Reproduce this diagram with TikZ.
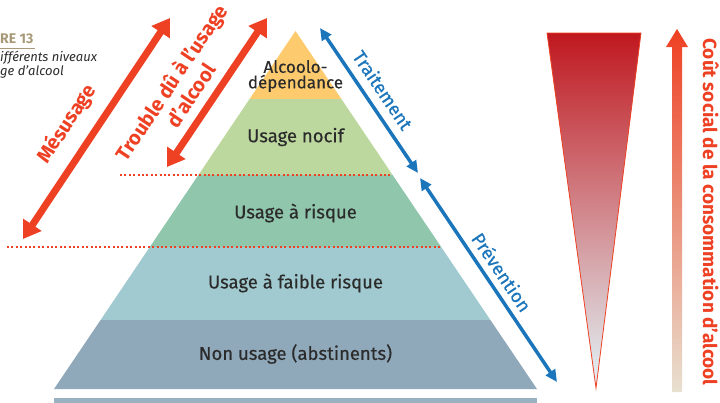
\documentclass[tikz,border=0pt]{standalone}
\usepackage{fontspec}
\setmainfont{Fira Sans}
\newfontfamily\medfont{Fira Sans}[FakeBold=0.4]
\usetikzlibrary{arrows.meta}

\definecolor{txtgray}{HTML}{2B2B2B}
\definecolor{alcred}{HTML}{EE4023}
\definecolor{alcblue}{HTML}{1A75BB}
\definecolor{tan}{HTML}{A89A78}
\definecolor{lvlA}{HTML}{FDCB6E}
\definecolor{lvlB}{HTML}{BDD89E}
\definecolor{lvlC}{HTML}{90C6AC}
\definecolor{lvlD}{HTML}{A0CAD0}
\definecolor{lvlE}{HTML}{8FA9BB}
\definecolor{coutTop}{HTML}{C0181F}
\definecolor{coutMid}{HTML}{BCAEA8}
\definecolor{coutBot}{HTML}{E2F5F9}
\definecolor{coutBeige}{HTML}{E8E0D0}

\begin{document}
\begin{tikzpicture}[x=1pt,y=-1pt,
    lvl/.style={font=\medfont\fontsize{18.5}{16}\selectfont, text=txtgray, align=center},
    redlbl/.style={font=\bfseries\fontsize{20}{23.5}\selectfont, text=alcred, align=center},
    bluelbl/.style={font=\medfont\fontsize{18.5}{20}\selectfont, text=alcblue},
    redarrow/.style={draw=alcred, line width=7pt,
        {Triangle[length=17pt,width=21pt]}-{Triangle[length=17pt,width=21pt]}},
    bluearrow/.style={draw=alcblue, line width=3.5pt,
        {Triangle[length=12pt,width=11pt]}-{Triangle[length=12pt,width=11pt]}},
    limit/.style={draw=alcred, line width=2pt, dash pattern=on 2pt off 2.4pt}]
    \useasboundingbox (0,0) rectangle (720,402);

    % pyramide
    \fill[lvlA] (295.5,31) -- (341.4,99) -- (249.6,99) -- cycle;
    \fill[lvlB] (249.6,99) -- (341.4,99) -- (392.6,175) -- (198.4,175) -- cycle;
    \fill[lvlC] (198.4,175) -- (392.6,175) -- (441.2,247) -- (149.8,247) -- cycle;
    \fill[lvlD] (149.8,247) -- (441.2,247) -- (490.4,320) -- (100.6,320) -- cycle;
    \fill[lvlE] (100.6,320) -- (490.4,320) -- (537,389) -- (54,389) -- cycle;
    \fill[lvlE!90!white] (54,398) rectangle (537,403);

    \node[lvl, font=\medfont\fontsize{17}{15.5}\selectfont] (dep) at (295.5,76) {Alcoolo-\\dépendance};
    \node[lvl] (nocif) at (295.5,137) {Usage nocif};
    \node[lvl] (risque) at (295.5,213) {Usage à risque};
    \node[lvl] (faible) at (295.5,283) {Usage à faible risque};
    \node[lvl] (non) at (295.5,354) {Non usage (abstinents)};

    % seuils
    \draw[limit] (120,175) -- (392.6,175);
    \draw[limit] (7,247) -- (441.2,247);

    % fleches de gauche
    \coordinate (mesA) at (23,239);
    \coordinate (mesB) at (170,18);
    \coordinate (troA) at (167,167);
    \coordinate (troB) at (267,18);
    \draw[redarrow] (mesA) -- (mesB);
    \draw[redarrow] (troA) -- (troB);
    \node[redlbl, rotate=56.4] (mes) at (67,124) {Mésusage};
    \node[redlbl, rotate=56.1] (tro) at (180.5,88.5) {Trouble dû à l’usage\\d’alcool};

    % fleches de droite
    \coordinate (traA) at (320,28);
    \coordinate (traB) at (418,173);
    \coordinate (preA) at (420,178);
    \coordinate (preB) at (557,382);
    \draw[bluearrow] (traA) -- (traB);
    \draw[bluearrow] (preA) -- (preB);
    \node[bluelbl, rotate=-56] (tra) at (383,90) {Traitement};
    \node[bluelbl, rotate=-56] (pre) at (502,272) {Prévention};

    % cout social
    \shade[top color=coutTop, middle color=coutMid, bottom color=coutBot]
        (547,33) -- (641,33) -- (596,388) -- cycle;
    \draw[alcred, line width=0.8pt] (547,33) -- (641,33) -- (596,388) -- cycle;
    \shade[top color=alcred, bottom color=coutBeige]
        (672,392) -- (672,47) -- (666,47) -- (677,29) -- (688,47) -- (682,47) -- (682,392) -- cycle;
    \node[redlbl, rotate=-90, anchor=base, inner sep=0pt, font=\bfseries\fontsize{19}{20}\selectfont] (cout) at (703,212)
        {Coût social de la consommation d’alcool};

    % titre
    \node[anchor=base west, inner sep=0pt, text=tan, font=\bfseries\fontsize{14}{15}\selectfont] (fig) at (0,43) {RE 13};
    \draw[tan, line width=1pt] (0,48) -- (35,48);
    \node[anchor=base west, inner sep=0pt, text=txtgray, font=\itshape\fontsize{13}{14}\selectfont] (titre) at (0,61)
        {ifférents niveaux};
    \node[anchor=base west, inner sep=0pt, text=txtgray, font=\itshape\fontsize{13}{14}\selectfont] (titre2) at (0,75)
        {ge d’alcool};
\end{tikzpicture}
\end{document}
